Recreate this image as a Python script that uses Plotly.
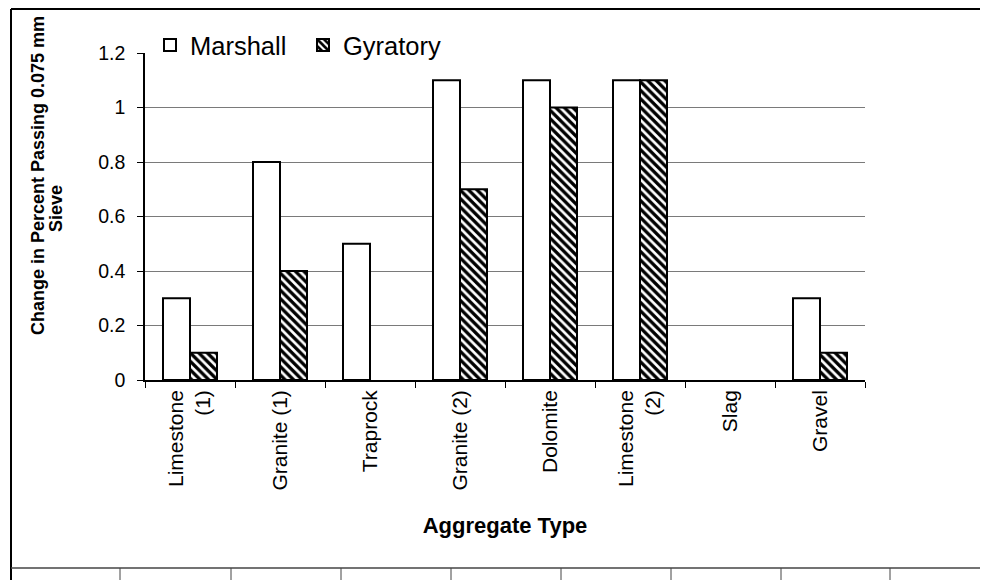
import plotly.graph_objects as go

categories = ["Limestone<br>(1)", "Granite (1)", "Traprock", "Granite (2)", "Dolomite",
              "Limestone<br>(2)", "Slag", "Gravel"]
marshall = [0.3, 0.8, 0.5, 1.1, 1.1, 1.1, 0.0, 0.3]
gyratory = [0.1, 0.4, 0.0, 0.7, 1.0, 1.1, 0.0, 0.1]
y_ticks = [0, 0.2, 0.4, 0.6, 0.8, 1.0, 1.2]
y_tick_text = ["0", "0.2", "0.4", "0.6", "0.8", "1", "1.2"]
grid_vals = [0.2, 0.4, 0.6, 0.8, 1.0]
y_title_lines = ["Change in Percent Passing 0.075 mm", "Sieve"]
x_title = "Aggregate Type"

FONT = "Liberation Sans, Arial, sans-serif"

# page has an 8px body margin; figure sized to fit the 988x580 window
OFF = 8
W, H = 988 - OFF, 580 - OFF
# plot area in page pixels
L, R, T, B = 145 - OFF, 865 - OFF, 53 - OFF, 380 - OFF

def px(x):  # page pixel -> paper x
    return (x - OFF - L) / (R - L)

def py(y):  # page pixel -> paper y
    return (B - (y - OFF)) / (B - T)

def outline(vals):
    return [2 if v > 0 else 0 for v in vals]

fig = go.Figure()
fig.add_trace(go.Bar(
    name="Marshall", x=categories, y=marshall,
    marker=dict(color="white", line=dict(color="black", width=outline(marshall))),
))
fig.add_trace(go.Bar(
    name="Gyratory", x=categories, y=gyratory,
    marker=dict(color="white", line=dict(color="black", width=outline(gyratory)),
                pattern=dict(shape="\\", fgcolor="black", bgcolor="white",
                             size=6, solidity=0.55, fillmode="replace")),
))
# invisible trace on a second axis carrying the gridlines (none at 1.2)
fig.add_trace(go.Scatter(x=[categories[0]], y=[0], yaxis="y2", mode="markers",
                         marker=dict(opacity=0), showlegend=False, hoverinfo="skip"))

shapes = []
line = dict(color="black", width=2)
thin = dict(color="#444444", width=1.5)
shapes.append(dict(type="line", xref="paper", yref="paper", x0=px(11), x1=px(11),
                   y0=py(9), y1=py(590), line=line))
shapes.append(dict(type="line", xref="paper", yref="paper", x0=px(11), x1=px(1000),
                   y0=py(9), y1=py(9), line=line))
shapes.append(dict(type="line", xref="paper", yref="paper", x0=px(11), x1=px(1000),
                   y0=py(568), y1=py(568), line=thin))
for vx in [120, 231, 341, 451, 561, 671, 781, 890]:
    shapes.append(dict(type="line", xref="paper", yref="paper", x0=px(vx), x1=px(vx),
                       y0=py(568), y1=py(590), line=dict(color="#444444", width=1)))

annotations = [
    dict(text="<b>%s</b>" % y_title_lines[0], xref="paper", yref="paper",
         x=px(38), y=py(176), textangle=-90, showarrow=False,
         xanchor="center", yanchor="middle", font=dict(size=18, family=FONT)),
    dict(text="<b>%s</b>" % y_title_lines[1], xref="paper", yref="paper",
         x=px(56), y=py(209), textangle=-90, showarrow=False,
         xanchor="center", yanchor="middle", font=dict(size=18, family=FONT)),
]

fig.update_layout(
    width=W, height=H,
    margin=dict(l=L, r=W - R, t=T, b=H - B, pad=0),
    paper_bgcolor="white", plot_bgcolor="rgba(0,0,0,0)",
    barmode="group", bargap=0.4, bargroupgap=0,
    font=dict(family=FONT, color="black", size=18),
    legend=dict(orientation="h", x=px(150), y=py(22), xanchor="left", yanchor="top",
                font=dict(size=25.5, family=FONT), bgcolor="rgba(0,0,0,0)",
                itemwidth=30, entrywidth=108, entrywidthmode="pixels",
                traceorder="normal"),
    xaxis=dict(
        showline=True, linecolor="black", linewidth=1.5,
        ticks="outside", ticklen=6, tickcolor="black", tickwidth=1,
        tickson="boundaries", tickangle=-90,
        tickfont=dict(size=21, family=FONT),
        title=dict(text="<b>%s</b>" % x_title, font=dict(size=22, family=FONT), standoff=28),
        showgrid=False,
    ),
    yaxis=dict(
        range=[0, 1.2], tickvals=y_ticks, ticktext=y_tick_text,
        showline=True, linecolor="black", linewidth=1.5,
        ticks="outside", ticklen=6, tickcolor="black", tickwidth=1,
        ticklabelstandoff=8,
        tickfont=dict(size=19.5, family=FONT), showgrid=False, zeroline=False,
    ),
    yaxis2=dict(
        range=[0, 1.2], overlaying="y", tickvals=grid_vals, showticklabels=False,
        showgrid=True, gridcolor="#7a7a7a", gridwidth=1, zeroline=False, ticks="",
        showline=False,
    ),
    shapes=shapes,
    annotations=annotations,
)

fig.write_html("out.html")
